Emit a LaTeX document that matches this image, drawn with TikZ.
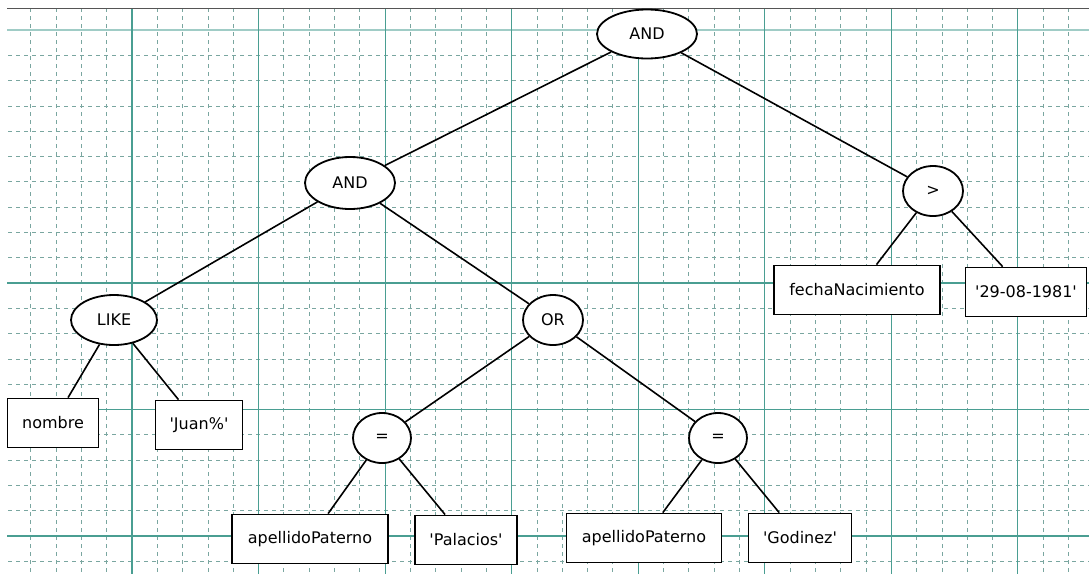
\documentclass[tikz,border=0pt]{standalone}
\usepackage{fontspec}
\setmainfont{DejaVu Sans}
\usetikzlibrary{shapes.geometric}
\definecolor{gridsolid}{HTML}{4A9E92}
\definecolor{gridlight}{HTML}{A0CCC6}
\definecolor{griddash}{HTML}{7AA6A0}
\definecolor{topline}{HTML}{555555}
\newcommand{\sq}{\textquotesingle}
\tikzset{
  op/.style={ellipse, draw=black, line width=1.8pt, fill=white, inner sep=0pt,
    font=\fontsize{16}{19}\selectfont},
  leaf/.style={rectangle, draw=black, line width=1.8pt, fill=white, inner sep=0pt,
    minimum height=49pt, font=\fontsize{16}{19}\selectfont},
  link/.style={draw=black, line width=1.6pt},
  gmajor/.style={draw=gridsolid, line width=1.1pt},
  gminor/.style={draw=griddash, line width=0.8pt, dash pattern=on 4pt off 4pt},
}
\begin{document}
\begin{tikzpicture}[x=1pt, y=-1pt]
\useasboundingbox (0,0) rectangle (1089,574);
\fill[white] (0,0) rectangle (1089,574);
% grid
\foreach \j in {1,...,9,11,12,13,14,16,17,18,19,21}{
  \draw[gminor] (8,{30+25.3*\j}) -- (1089,{30+25.3*\j});
}
\foreach \k in {1,...,42}{
  \pgfmathtruncatemacro\m{mod(\k,5)}
  \ifnum\m=0\relax
  \else
    \draw[gminor] ({5.43+25.31*\k},8) -- ({5.43+25.31*\k},574);
  \fi
}
\draw[draw=gridlight, line width=1.6pt] (7,30) -- (1089,30);
\foreach \j in {10,15,20}{
  \draw[gmajor] (7,{30+25.3*\j}) -- (1089,{30+25.3*\j});
}
\foreach \k in {5,10,...,40}{
  \draw[gmajor] ({5.43+25.31*\k},8) -- ({5.43+25.31*\k},574);
}
\draw[draw=topline, line width=0.9pt] (7,8) -- (1089,8);
% operator nodes
\node[op, minimum width=100pt, minimum height=49pt] (and1) at (647,34) {AND};
\node[op, minimum width=90pt, minimum height=52pt] (and2) at (350,183) {AND};
\node[op, minimum width=60pt, minimum height=50pt] (gt) at (933,191) {>};
\node[op, minimum width=86pt, minimum height=50pt] (like) at (114,320) {LIKE};
\node[op, minimum width=60pt, minimum height=50pt] (or) at (553,320) {OR};
\node[op, minimum width=58pt, minimum height=50pt] (eq1) at (382,438) {=};
\node[op, minimum width=58pt, minimum height=50pt] (eq2) at (718,438) {=};
% leaf nodes
\node[leaf, minimum width=166pt] (fecha) at (857,290) {fechaNacimiento};
\node[leaf, minimum width=121pt] (date) at (1026,292) {\sq29-08-1981\sq};
\node[leaf, minimum width=91pt] (nombre) at (53,423) {nombre};
\node[leaf, minimum width=87pt] (juan) at (199,425) {\sq Juan\%\sq};
\node[leaf, minimum width=156pt] (ap1) at (310,539) {apellidoPaterno};
\node[leaf, minimum width=102pt] (pal) at (466,540) {\sq Palacios\sq};
\node[leaf, minimum width=155pt] (ap2) at (644,538) {apellidoPaterno};
\node[leaf, minimum width=103pt] (god) at (800,538) {\sq Godinez\sq};
% connectors
\draw[link] (and1) -- (and2);
\draw[link] (and1) -- (gt);
\draw[link] (and2) -- (like);
\draw[link] (and2) -- (or);
\draw[link] (gt) -- (fecha);
\draw[link] (gt) -- (date);
\draw[link] (like) -- (nombre);
\draw[link] (like) -- (juan);
\draw[link] (or) -- (eq1);
\draw[link] (or) -- (eq2);
\draw[link] (eq1) -- (ap1);
\draw[link] (eq1) -- (pal);
\draw[link] (eq2) -- (ap2);
\draw[link] (eq2) -- (god);
\end{tikzpicture}
\end{document}
